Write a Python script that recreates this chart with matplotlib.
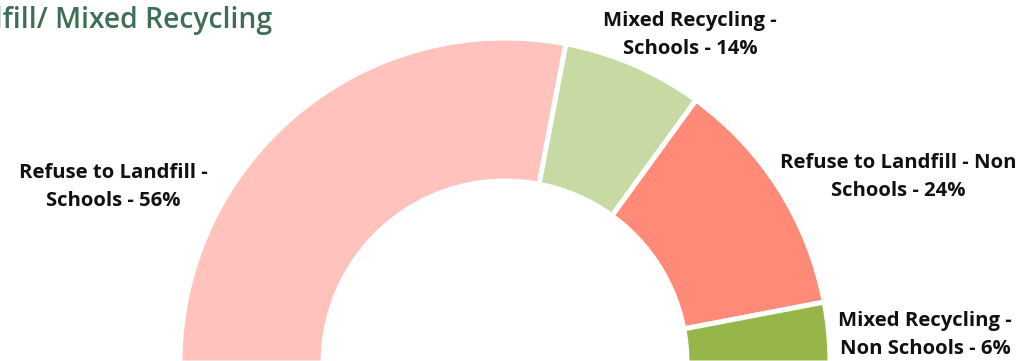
import matplotlib.pyplot as plt

# waste stream shares (percent)
categories = [
    "Refuse to Landfill - Schools",
    "Mixed Recycling - Schools",
    "Refuse to Landfill - Non Schools",
    "Mixed Recycling - Non Schools",
]
shares = [56, 14, 24, 6]
colours = ["#FFC2BC", "#C8DAA4", "#FF8A78", "#97B64A"]

label_text = [
    "Refuse to Landfill -\nSchools - 56%",
    "Mixed Recycling -\nSchools - 14%",
    "Refuse to Landfill - Non\nSchools - 24%",
    "Mixed Recycling -\nNon Schools - 6%",
]
label_pos = [(113, 187), (690, 35), (898, 177), (925, 335)]

plt.rcParams["font.family"] = ["Open Sans", "DejaVu Sans"]

W, H = 1032, 361
fig = plt.figure(figsize=(W / 100, H / 100), dpi=100)
ax = fig.add_axes([0, 0, 1, 1])

# half donut: pad with an invisible slice equal to the total
vals = shares + [sum(shares)]
cols = colours + ["none"]
wedges, _ = ax.pie(
    vals,
    colors=cols,
    startangle=180,
    counterclock=False,
    center=(505, H - 363),
    radius=325,
    wedgeprops=dict(width=143, edgecolor="white", linewidth=3.6, joinstyle="round"),
)
wedges[-1].set_edgecolor("none")

ax.set_xlim(0, W)
ax.set_ylim(0, H)
ax.set_aspect("equal")
ax.axis("off")

for txt, (x, y) in zip(label_text, label_pos):
    ax.text(x, H - y, txt, ha="center", va="center", fontsize=14.6,
            fontweight="bold", color="#111111", linespacing=1.5)

ax.text(272, H - 28, "Refuse to Landfill/ Mixed Recycling", ha="right",
        va="baseline", fontsize=20.3, color="#3E6E55", fontweight="semibold")

fig.savefig("out.png", dpi=100)
